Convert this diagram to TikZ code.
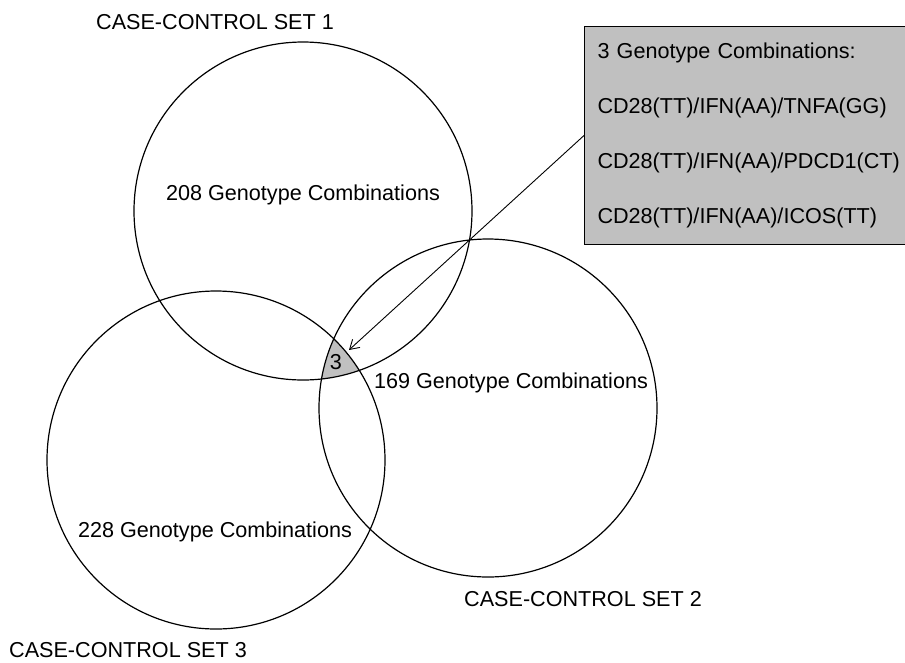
\documentclass[tikz,border=0pt]{standalone}
\usepackage{fontspec}
\setmainfont{Liberation Sans}
\usetikzlibrary{arrows.meta}
\definecolor{boxgray}{RGB}{192,192,192}
\tikzset{
  setcircle/.style={circle,draw,line width=1.2pt,minimum size=338pt,inner sep=0pt},
  lbl/.style={font=\fontsize{21.6}{25}\selectfont,inner sep=0pt}
}
\begin{document}
\begin{tikzpicture}[x=1pt,y=-1pt]
  \useasboundingbox (0,0) rectangle (905,662);

  % shaded part shared by all three sets
  \begin{scope}
    \clip (303,211) circle [radius=169pt];
    \clip (488,408) circle [radius=169pt];
    \fill[boxgray] (216,460) circle [radius=169pt];
  \end{scope}

  \node (set1) at (303,211) [setcircle]{};
  \node (set2) at (488,408) [setcircle]{};
  \node (set3) at (216,460) [setcircle]{};

  \node (name1) at (215,22) [lbl]{CASE-CONTROL SET 1};
  \node (name2) at (583,599) [lbl]{CASE-CONTROL SET 2};
  \node (name3) at (128,650) [lbl]{CASE-CONTROL SET 3};

  \node (n1) at (303,195) [lbl]{208 Genotype Combinations};
  \node (n2) at (511,383) [lbl]{169 Genotype Combinations};
  \node (n3) at (215,532) [lbl]{228 Genotype Combinations};
  \node (three) at (336,362) [lbl]{3};

  \node (box) at (584,26) [anchor=north west,draw,fill=boxgray,line width=1pt,
    minimum width=324pt,minimum height=218pt,inner xsep=13pt,
    text width=298pt,align=left,font=\fontsize{21.6}{55}\selectfont]
    {3 Genotype Combinations:\\CD28(TT)/IFN(AA)/TNFA(GG)\\CD28(TT)/IFN(AA)/PDCD1(CT)\\CD28(TT)/IFN(AA)/ICOS(TT)};

  \coordinate (tip) at (349,350);

  \draw[-{Straight Barb[length=9pt,width=11pt]},line width=0.9pt] (box.west) -- (tip);

\end{tikzpicture}
\end{document}
